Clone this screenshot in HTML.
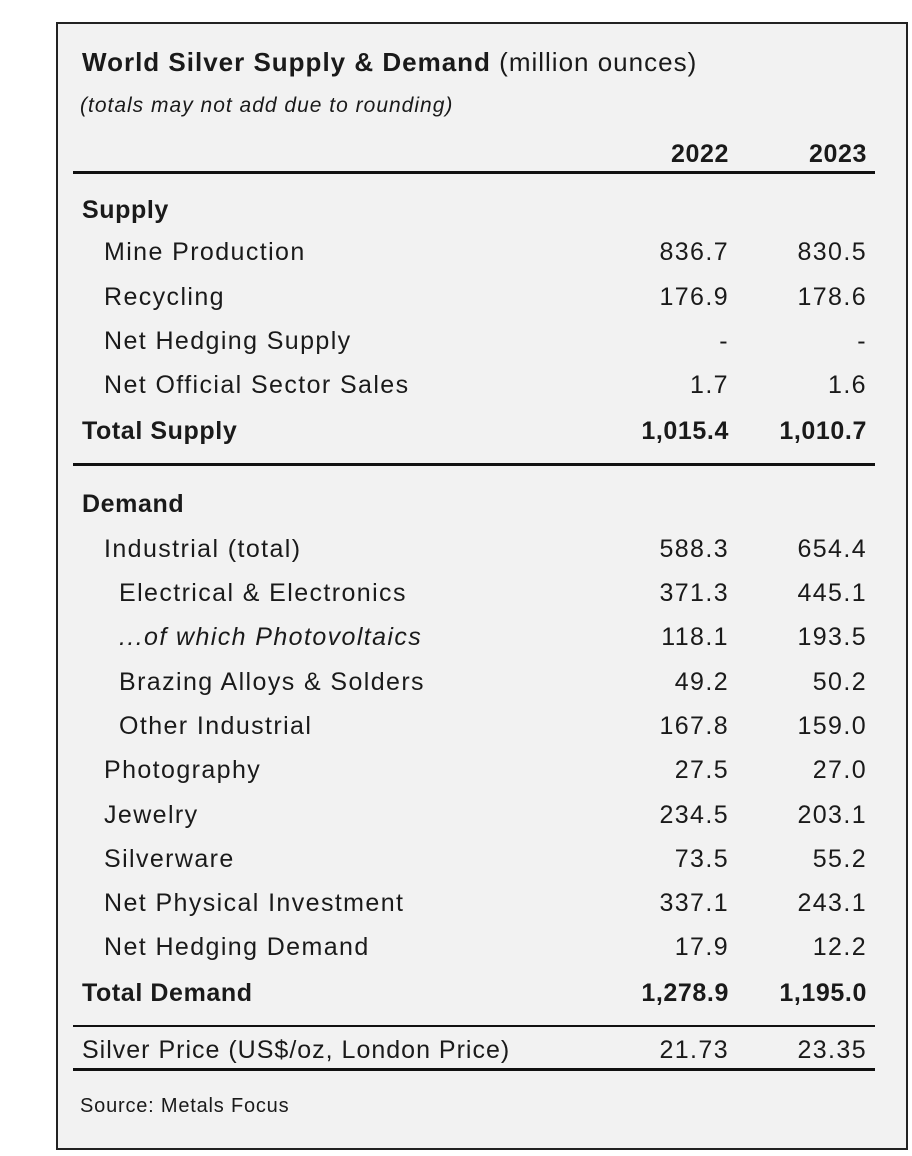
<!DOCTYPE html>
<html><head><meta charset="utf-8"><style>
body{margin:0;width:912px;height:1156px;background:#fff;position:relative;font-family:"Liberation Sans",sans-serif;color:#1a1a1a;overflow:hidden}
#box{position:absolute;left:56px;top:22px;width:848px;height:1124px;border:2px solid #222;background:#f2f2f2}
.t{position:absolute;white-space:nowrap;font-size:25px;letter-spacing:1.4px;line-height:30px;transform:translateY(-15px)}
.r{position:absolute;white-space:nowrap;font-size:25px;letter-spacing:1.4px;line-height:30px;transform:translateY(-15px);text-align:right;width:201px}
.b{font-weight:bold;letter-spacing:0.6px}
.hl{position:absolute;left:73px;width:802px;background:#111}
</style></head><body>
<div id="box"></div>
<div class="t" style="left:82px;top:62px;font-size:26px;letter-spacing:1px"><b>World Silver Supply &amp; Demand</b> (million ounces)</div>
<div class="t" style="left:80px;top:106px;font-size:21px;font-style:italic;letter-spacing:1px">(totals may not add due to rounding)</div>
<div class="r b" style="left:528px;top:154px">2022</div>
<div class="r b" style="left:666px;top:154px">2023</div>
<div class="hl" style="top:171px;height:3px"></div>

<div class="t b" style="left:82px;top:210px">Supply</div>
<div class="t" style="left:104px;top:252px">Mine Production</div><div class="r" style="left:528px;top:252px">836.7</div><div class="r" style="left:666px;top:252px">830.5</div>
<div class="t" style="left:104px;top:297px">Recycling</div><div class="r" style="left:528px;top:297px">176.9</div><div class="r" style="left:666px;top:297px">178.6</div>
<div class="t" style="left:104px;top:341px">Net Hedging Supply</div><div class="r" style="left:528px;top:341px">-</div><div class="r" style="left:666px;top:341px">-</div>
<div class="t" style="left:104px;top:385px">Net Official Sector Sales</div><div class="r" style="left:528px;top:385px">1.7</div><div class="r" style="left:666px;top:385px">1.6</div>
<div class="t b" style="left:82px;top:431px">Total Supply</div><div class="r b" style="left:528px;top:431px">1,015.4</div><div class="r b" style="left:666px;top:431px">1,010.7</div>
<div class="hl" style="top:463px;height:3px"></div>

<div class="t b" style="left:82px;top:504px">Demand</div>
<div class="t" style="left:104px;top:549px">Industrial (total)</div><div class="r" style="left:528px;top:549px">588.3</div><div class="r" style="left:666px;top:549px">654.4</div>
<div class="t" style="left:119px;top:593px">Electrical &amp; Electronics</div><div class="r" style="left:528px;top:593px">371.3</div><div class="r" style="left:666px;top:593px">445.1</div>
<div class="t" style="left:119px;top:637px;font-style:italic">...of which Photovoltaics</div><div class="r" style="left:528px;top:637px">118.1</div><div class="r" style="left:666px;top:637px">193.5</div>
<div class="t" style="left:119px;top:682px">Brazing Alloys &amp; Solders</div><div class="r" style="left:528px;top:682px">49.2</div><div class="r" style="left:666px;top:682px">50.2</div>
<div class="t" style="left:119px;top:726px">Other Industrial</div><div class="r" style="left:528px;top:726px">167.8</div><div class="r" style="left:666px;top:726px">159.0</div>
<div class="t" style="left:104px;top:770px">Photography</div><div class="r" style="left:528px;top:770px">27.5</div><div class="r" style="left:666px;top:770px">27.0</div>
<div class="t" style="left:104px;top:815px">Jewelry</div><div class="r" style="left:528px;top:815px">234.5</div><div class="r" style="left:666px;top:815px">203.1</div>
<div class="t" style="left:104px;top:859px">Silverware</div><div class="r" style="left:528px;top:859px">73.5</div><div class="r" style="left:666px;top:859px">55.2</div>
<div class="t" style="left:104px;top:903px">Net Physical Investment</div><div class="r" style="left:528px;top:903px">337.1</div><div class="r" style="left:666px;top:903px">243.1</div>
<div class="t" style="left:104px;top:947px">Net Hedging Demand</div><div class="r" style="left:528px;top:947px">17.9</div><div class="r" style="left:666px;top:947px">12.2</div>
<div class="t b" style="left:82px;top:993px">Total Demand</div><div class="r b" style="left:528px;top:993px">1,278.9</div><div class="r b" style="left:666px;top:993px">1,195.0</div>
<div class="hl" style="top:1025px;height:2px"></div>
<div class="t" style="left:82px;top:1050px;letter-spacing:1px">Silver Price (US$/oz, London Price)</div><div class="r" style="left:528px;top:1050px">21.73</div><div class="r" style="left:666px;top:1050px">23.35</div>
<div class="hl" style="top:1068px;height:3px"></div>
<div class="t" style="left:80px;top:1106px;font-size:20px;letter-spacing:0.8px">Source: Metals Focus</div>
</body></html>
